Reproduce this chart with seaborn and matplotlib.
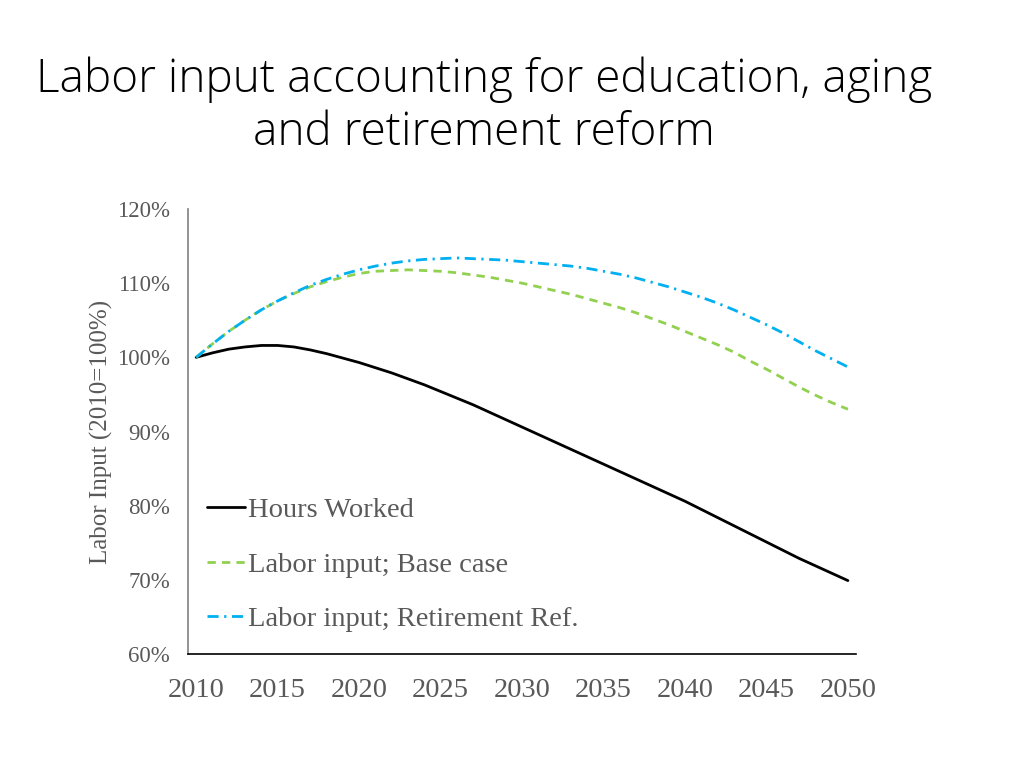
import pandas as pd
import matplotlib.pyplot as plt
import seaborn as sns
from matplotlib.ticker import PercentFormatter

years = list(range(2010, 2051))

hours_worked = [100.0, 100.6, 101.1, 101.4, 101.6, 101.6, 101.4, 101.0, 100.5, 99.9,
                99.3, 98.6, 97.9, 97.1, 96.3, 95.4, 94.5, 93.6, 92.6, 91.6,
                90.6, 89.6, 88.6, 87.6, 86.6, 85.6, 84.6, 83.6, 82.6, 81.6,
                80.6, 79.5, 78.4, 77.3, 76.2, 75.1, 74.0, 72.9, 71.9, 70.9, 69.9]

base_case = [100.0, 101.8, 103.5, 105.0, 106.4, 107.6, 108.6, 109.5, 110.2, 110.8,
             111.3, 111.6, 111.7, 111.8, 111.7, 111.6, 111.4, 111.1, 110.8, 110.4,
             110.0, 109.5, 109.0, 108.5, 107.9, 107.3, 106.7, 106.0, 105.2, 104.4,
             103.5, 102.6, 101.7, 100.7, 99.5, 98.4, 97.2, 96.0, 94.9, 93.9, 93.0]

retirement_ref = [100.0, 101.8, 103.5, 105.0, 106.4, 107.6, 108.7, 109.7, 110.5, 111.2,
                  111.8, 112.3, 112.7, 113.0, 113.2, 113.3, 113.4, 113.3, 113.2, 113.1,
                  112.9, 112.7, 112.5, 112.3, 112.0, 111.6, 111.2, 110.7, 110.1, 109.5,
                  108.8, 108.1, 107.3, 106.4, 105.4, 104.4, 103.3, 102.1, 100.9, 99.8, 98.7]

series_names = ["Hours Worked", "Labor input; Base case", "Labor input; Retirement Ref."]
x_ticks = list(range(2010, 2051, 5))

df = pd.DataFrame({
    "year": years,
    series_names[0]: hours_worked,
    series_names[1]: base_case,
    series_names[2]: retirement_ref,
})
long_df = df.melt(id_vars="year", var_name="series", value_name="value")

sns.set_style("white")
plt.rcParams["font.family"] = ["Liberation Serif", "DejaVu Serif"]

gray = "#595959"
colors = {series_names[0]: "black", series_names[1]: "#92D050", series_names[2]: "#00B0F0"}
dashes = {series_names[0]: "", series_names[1]: (3, 2.2), series_names[2]: (4, 2, 0.8, 2)}

fig = plt.figure(figsize=(10.24, 7.68), dpi=100)
ax = fig.add_axes([0.1836, 0.1484, 0.6524, 0.5795])

sns.lineplot(data=long_df, x="year", y="value", hue="series", style="series",
             palette=colors, dashes=dashes, linewidth=2.0, ax=ax)

ax.set_xlim(2009.5, 2050.5)
ax.set_ylim(60, 120)
ax.set_xticks(x_ticks)
ax.set_yticks(range(60, 121, 10))
ax.yaxis.set_major_formatter(PercentFormatter(decimals=0))
ax.tick_params(axis="x", labelsize=20.5, colors=gray, length=0, pad=17)
ax.tick_params(axis="y", labelsize=16.5, colors=gray, length=0, pad=13)
ax.set_xlabel("")
ax.set_ylabel("Labor Input (2010=100%)", fontsize=18, color=gray, labelpad=3)

for s in ["top", "right"]:
    ax.spines[s].set_visible(False)
ax.spines["left"].set_color("#808080")
ax.spines["bottom"].set_color("black")
ax.spines["left"].set_linewidth(1.2)
ax.spines["bottom"].set_linewidth(1.2)

handles, labels = ax.get_legend_handles_labels()
leg = ax.legend(handles, labels, loc="upper left", bbox_to_anchor=(0.028, 0.352),
                frameon=False, fontsize=20.5, handlelength=1.35, handletextpad=0.1,
                labelspacing=1.0, borderpad=0, borderaxespad=0)
for t in leg.get_texts():
    t.set_color(gray)

fig.text(0.473, 0.862, "Labor input accounting for education, aging\nand retirement reform",
         ha="center", va="center", fontsize=33, color="black",
         family=["Open Sans", "DejaVu Sans"], fontweight="light", linespacing=1.2)

fig.savefig("out.png", dpi=100)
